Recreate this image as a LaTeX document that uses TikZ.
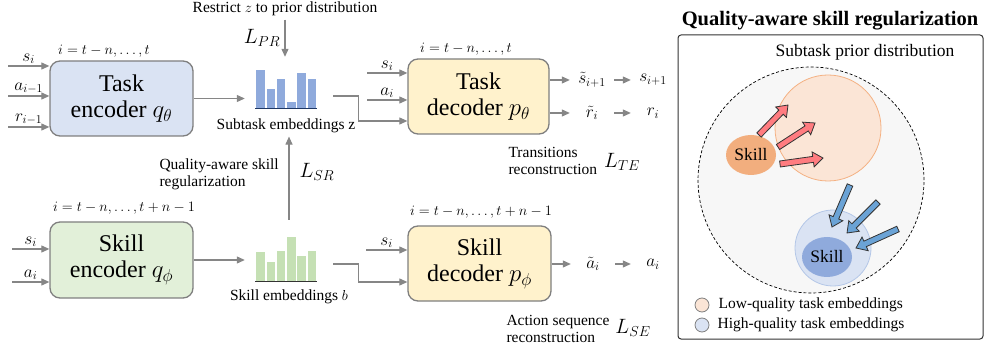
\documentclass[tikz,border=0pt]{standalone}
\usepackage{fontspec}
\setmainfont{Liberation Serif}
\usepackage{tikz}
\usetikzlibrary{arrows.meta,calc,positioning,shapes.geometric}
\usepackage{xcolor}
\definecolor{arrowgray}{HTML}{868686}
\definecolor{boxgray}{HTML}{7F7F7F}
\definecolor{taskblue}{HTML}{DAE3F3}
\definecolor{skillgreen}{HTML}{E2F0D9}
\definecolor{decyellow}{HTML}{FFF2CC}
\definecolor{barblue}{HTML}{8FAADC}
\definecolor{barnavy}{HTML}{1F3864}
\definecolor{bargreen}{HTML}{C5E0B4}
\definecolor{priorgray}{HTML}{F7F7F7}
\definecolor{lowfill}{HTML}{FBE5D6}
\definecolor{loworange}{HTML}{F4B183}
\definecolor{skillorange}{HTML}{F2AE7E}
\definecolor{highfill}{HTML}{DAE3F3}
\definecolor{highline}{HTML}{B4C7E7}
\definecolor{skillblue}{HTML}{8FAADC}
\definecolor{redarr}{HTML}{FF7C80}
\definecolor{bluearr}{HTML}{6BA3D6}

% fat arrow from #1 to #2
\newcommand{\blockarrow}[3]{%
  \coordinate (bh) at ($(#2)!10pt!(#1)$);
  \draw[#3] ($(#1)!3pt!90:(#2)$) -- ($(bh)!3pt!90:(#2)$) -- ($(bh)!7.5pt!90:(#2)$)
    -- (#2) -- ($(bh)!7.5pt!-90:(#2)$) -- ($(bh)!3pt!-90:(#2)$) -- ($(#1)!3pt!-90:(#2)$) -- cycle;
}

\tikzset{
  garrow/.style={draw=arrowgray, line width=1.1pt, -{Triangle[length=8pt,width=7pt]}},
  block/.style={draw=boxgray, line width=1.3pt, rounded corners=10pt, minimum width=143pt,
    minimum height=75pt, align=center, font=\fontsize{24}{26}\selectfont},
  small/.style={font=\fontsize{15.5}{17}\selectfont},
  inlab/.style={font=\fontsize{17}{19}\selectfont, inner sep=1.5pt},
  idx/.style={font=\fontsize{15.5}{17}\selectfont},
  loss/.style={font=\fontsize{20}{22}\selectfont},
  outn/.style={minimum width=44pt, inner sep=1pt, font=\fontsize{17}{19}\selectfont},
  skillell/.style={ellipse, minimum width=50pt, minimum height=40pt, inner sep=0pt,
    font=\fontsize{17.5}{19}\selectfont},
  legdot/.style={circle, draw=boxgray, line width=0.8pt, minimum size=14pt, inner sep=0pt},
  legtxt/.style={font=\fontsize{15.5}{17}\selectfont, inner sep=0pt},
  redblock/.style={draw=black!80, line width=0.8pt, fill=redarr},
  blueblock/.style={draw=black!80, line width=0.8pt, fill=bluearr}
}

\begin{document}
\begin{tikzpicture}[x=1pt, y=-1pt]
  \useasboundingbox (0,0) rectangle (984,352);

  % Encoders and decoders
  \node[block, fill=taskblue] (tenc) at (121.5,98.5) {Task\\encoder $q_\theta$};
  \node[block, fill=decyellow, minimum width=141pt] (tdec) at (478.5,96.5) {Task\\decoder $p_\theta$};
  \node[block, fill=skillgreen, minimum height=76pt] (senc) at (121.5,260) {Skill\\encoder $q_\phi$};
  \node[block, fill=decyellow] (sdec) at (479.5,263.5) {Skill\\decoder $p_\phi$};

  \node[idx] (tencidx) at (104,51) {$i=t-n,\dots,t$};
  \node[idx] (tdecidx) at (466,49) {$i=t-n,\dots,t$};
  \node[idx] (sencidx) at (124,208) {$i=t-n,\dots,t+n-1$};
  \node[idx] (sdecidx) at (481,212) {$i=t-n,\dots,t+n-1$};

  % Inputs
  \foreach \y/\lab in {66/s_i, 96/a_{i-1}, 127/r_{i-1}} {
    \coordinate (tin) at (8,\y);
    \draw[garrow] (tin) -- (tin -| tenc.west) node[midway, above, inlab] {$\lab$};
  }
  \foreach \y/\lab in {73/s_i, 100/a_i} {
    \coordinate (din) at (367,\y);
    \draw[garrow] (din) -- (din -| tdec.west) node[midway, above, inlab] {$\lab$};
  }
  \foreach \y/\lab in {249/s_i, 282/a_i} {
    \coordinate (sin) at (12,\y);
    \draw[garrow] (sin) -- (sin -| senc.west) node[midway, above, inlab] {$\lab$};
  }
  \coordinate (sdin) at (366,250);
  \draw[garrow] (sdin) -- (sdin -| sdec.west) node[midway, above, inlab] {$s_i$};

  % Subtask embeddings
  \node[minimum width=88pt, minimum height=53pt, inner sep=0pt] (zemb) at (289,83.5) {};
  \foreach \xl/\yt in {256/70, 266.5/89, 276.5/79, 287/102, 297/73, 307.5/79}
    \fill[barblue] (\xl,\yt) rectangle (\xl+8.5,108);
  \draw[barnavy, line width=1.3pt] (255,108.5) -- (317,108.5);
  \node[small] (zlab) at (286,126) {Subtask embeddings z};

  % Skill embeddings
  \node[minimum width=88pt, minimum height=63pt, inner sep=0pt] (semb) at (289,251.5) {};
  \foreach \xl/\yt in {256/252, 266.5/262, 276.5/251, 287/237, 297/256, 307.5/251}
    \fill[bargreen] (\xl,\yt) rectangle (\xl+8.5,281);
  \draw[black!80, line width=1.3pt] (255,281.5) -- (317,281.5);
  \node[small] (slab) at (289,297) {Skill embeddings $b$};

  % Losses
  \node[small, inner sep=1pt] (restrict) at (285,8.5) {Restrict $z$ to prior distribution};
  \node[loss] (lpr) at (262,38) {$L_{PR}$};
  \draw[garrow] (restrict.south) ++(0,3) -- (restrict.south |- zemb.north);

  \node[small, align=left, anchor=west] (qlab) at (156,174) {Quality-aware skill\\regularization};
  \node[loss] (lsr) at (317,172) {$L_{SR}$};
  \draw[garrow] (semb.north) -- (semb.north |- zlab.south);

  \node[small, align=left, anchor=west] (tlab) at (505,160.5) {Transitions\\reconstruction};
  \node[loss] (lte) at (622,162) {$L_{TE}$};
  \node[small, align=left, anchor=west] (alab) at (503,328.5) {Action sequence\\reconstruction};
  \node[loss] (lse) at (633,328) {$L_{SE}$};

  % Connectors
  \draw[garrow] (tenc.east) -- (tenc.east -| zemb.west);
  \draw[garrow] (senc.east) -- (senc.east -| semb.west);
  \draw[garrow] ([yshift=-12.5pt]zemb.east) -- ++(25,0) |- ([yshift=-24.5pt]tdec.west);
  \draw[garrow] ([yshift=-12.5pt]semb.east) -- ++(25,0) |- ([yshift=-18.5pt]sdec.west);

  % Outputs
  \node[outn] (ts) at (592,80) {$\tilde{s}_{i+1}$};
  \node[outn] (s) at (653,80) {$s_{i+1}$};
  \node[outn] (tr) at (592,113) {$\tilde{r}_i$};
  \node[outn] (r) at (653,113) {$r_i$};
  \node[outn] (ta) at (593,264) {$\tilde{a}_i$};
  \node[outn] (a) at (653,264) {$a_i$};
  \draw[garrow] (tdec.east |- ts) -- (ts.west);
  \draw[garrow] (ts) -- (s);
  \draw[garrow] (tdec.east |- tr) -- (tr.west);
  \draw[garrow] (tr) -- (r);
  \draw[garrow] (sdec.east |- ta) -- (ta.west);
  \draw[garrow] (ta) -- (a);

  % Quality-aware skill regularization panel
  \node[font=\bfseries\fontsize{20.5}{24}\selectfont] (title) at (830,21) {Quality-aware skill regularization};
  \draw[black!80, line width=1pt, rounded corners=3pt] (678,35) rectangle (983,339);
  \node[font=\fontsize{17.5}{19}\selectfont] (priorlab) at (865,52) {Subtask prior distribution};
  \node[circle, draw, dash pattern=on 3pt off 2pt, line width=0.7pt, fill=priorgray,
    minimum size=226pt, inner sep=0pt] (prior) at (811,180) {};
  \node[circle, draw=loworange, line width=0.8pt, fill=lowfill, minimum size=106pt] (low) at (828,128) {};
  \node[circle, draw=highline, line width=0.8pt, fill=highfill, minimum size=76pt] (high) at (833,248) {};
  \node[skillell, fill=skillorange] (oskill) at (751,155) {Skill};
  \node[skillell, fill=skillblue] (bskill) at (827,257) {Skill};

  \blockarrow{759,135}{788,105}{redblock}
  \blockarrow{778,147}{815,123}{redblock}
  \blockarrow{780,164}{823,158}{redblock}
  \blockarrow{850,185}{832,227}{blueblock}
  \blockarrow{878,202}{847,233}{blueblock}
  \blockarrow{898,229}{856,248}{blueblock}

  % Legend
  \node[legdot, fill=lowfill] (lowdot) at (702,305) {};
  \node[legtxt, right=9pt of lowdot] (lowtxt) {Low-quality task embeddings};
  \node[legdot, fill=highfill] (highdot) at (702,325) {};
  \node[legtxt, right=8pt of highdot] (hightxt) {High-quality task embeddings};
\end{tikzpicture}
\end{document}
